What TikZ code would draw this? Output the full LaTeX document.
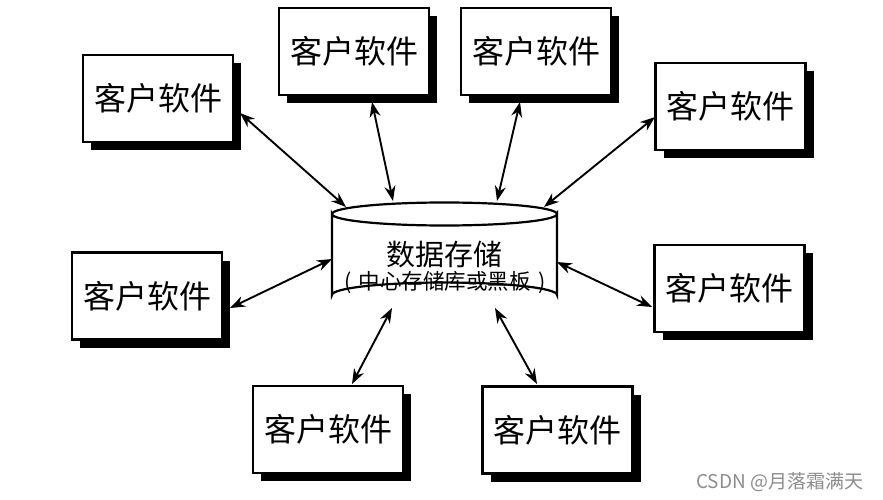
\documentclass[tikz,border=0pt]{standalone}
\usepackage{fontspec}
\setmainfont{Noto Sans CJK SC}
\newfontfamily\cjk{Noto Sans CJK SC}
\usetikzlibrary{arrows.meta,shadows}
\definecolor{wmgray}{RGB}{140,140,140}
\tikzset{
  client/.style={draw=black, line width=2.5pt, fill=white, minimum width=150pt, minimum height=87pt,
    inner sep=0pt, font=\cjk\fontsize{32}{32}\selectfont,
    drop shadow={shadow xshift=8pt, shadow yshift=-8pt, fill=black, opacity=1}},
  biarrow/.style={line width=1.9pt, {Stealth[length=15pt,width=11pt]}-{Stealth[length=15pt,width=11pt]}},
  cyl/.style={draw=black, line width=2.2pt, fill=white},
}
\begin{document}
\begin{tikzpicture}[x=1pt,y=-1pt]
\useasboundingbox (0,0) rectangle (883,500);
% client boxes
\node[client] (b1) at (158,98.5) {客户软件};
\node[client] (b2) at (354,51.5) {客户软件};
\node[client] (b3) at (536,51.5) {客户软件};
\node[client] (b4) at (730.5,106.5) {客户软件};
\node[client] (b5) at (147,296) {客户软件};
\node[client] (b6) at (729.5,288.5) {客户软件};
\node[client] (b7) at (328,429.5) {客户软件};
\node[client] (b8) at (557.5,430) {客户软件};
% cylinder (data store)
\path[cyl] (332,214) -- (332,295) arc[start angle=180, end angle=360, x radius=112.5, y radius=12.5]
  -- (557,214) arc[start angle=0, end angle=180, x radius=112.5, y radius=11.5] -- cycle;
\draw[line width=2.2pt] (332,214) arc[start angle=180, end angle=360, x radius=112.5, y radius=11.5];
\node[inner sep=0pt, font=\cjk\fontsize{29}{29}\selectfont] (ds) at (444.5,254) {数据存储};
\node[inner sep=0pt, font=\cjk\fontsize{21.5}{21.5}\selectfont] (dsb) at (445,283) {(\hspace{7pt}中心存储库或黑板\hspace{7pt})};
% arrow end points
\coordinate (p1) at (240,113); \coordinate (q1) at (346,207);
\coordinate (p2) at (372,102); \coordinate (q2) at (393,201);
\coordinate (p3) at (520,102); \coordinate (q3) at (497,201);
\coordinate (p4) at (655,117); \coordinate (q4) at (544,207);
\coordinate (p5) at (230,308); \coordinate (q5) at (332,259);
\coordinate (p6) at (652,307); \coordinate (q6) at (557,262);
\coordinate (p7) at (352,384); \coordinate (q7) at (392,308);
\coordinate (p8) at (537,384); \coordinate (q8) at (495,308);
\foreach \i in {1,...,8} { \draw[biarrow] (p\i) -- (q\i); }
% watermark
\node[anchor=west, inner sep=0pt, text=wmgray, font=\cjk\fontsize{19}{19}\selectfont] (wm) at (696,482) {CSDN @月落霜满天};
\end{tikzpicture}
\end{document}
